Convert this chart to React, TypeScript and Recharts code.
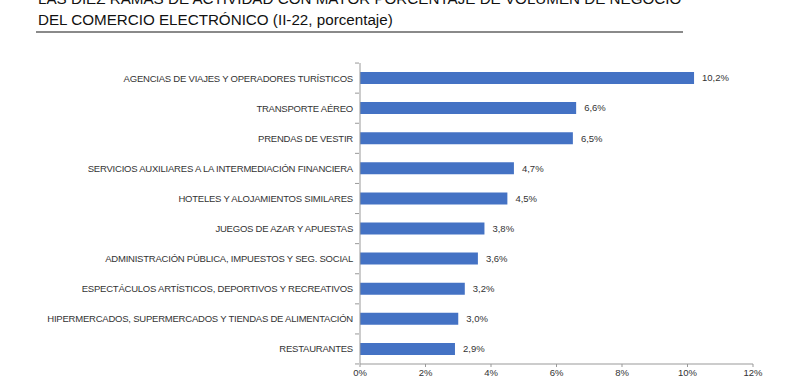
import React from "react";
import { BarChart, Bar, XAxis, YAxis, LabelList } from "recharts";

const categories = [
  "AGENCIAS DE VIAJES Y OPERADORES TURÍSTICOS",
  "TRANSPORTE AÉREO",
  "PRENDAS DE VESTIR",
  "SERVICIOS AUXILIARES A LA INTERMEDIACIÓN FINANCIERA",
  "HOTELES  Y ALOJAMIENTOS SIMILARES",
  "JUEGOS DE AZAR Y APUESTAS",
  "ADMINISTRACIÓN PÚBLICA, IMPUESTOS Y SEG. SOCIAL",
  "ESPECTÁCULOS ARTÍSTICOS, DEPORTIVOS Y RECREATIVOS",
  "HIPERMERCADOS, SUPERMERCADOS Y TIENDAS DE ALIMENTACIÓN",
  "RESTAURANTES",
];
const values = [10.2, 6.6, 6.5, 4.7, 4.5, 3.8, 3.6, 3.2, 3.0, 2.9];
const xTicks = [0, 2, 4, 6, 8, 10, 12];
const titleLines = [
  "LAS DIEZ RAMAS DE ACTIVIDAD CON MAYOR PORCENTAJE DE VOLUMEN DE NEGOCIO",
  "DEL COMERCIO ELECTRÓNICO (II-22, porcentaje)",
];

const data = categories.map((name, i) => ({ name, value: values[i] }));
const FONT = "'Liberation Sans', Arial, sans-serif";
const fmt = (v: number) => v.toFixed(1).replace(".", ",") + "%";

const CatTick = (props: any) => {
  const { x, y, payload, index } = props;
  const half = 15;
  const ax = x + 7;
  return (
    <g>
      <text x={x + 1} y={y} dy={3.5} textAnchor="end" fontSize={9.5} letterSpacing={-0.22} fill="#333" fontFamily={FONT}>
        {payload.value}
      </text>
      <line x1={ax - 4} x2={ax} y1={y - half} y2={y - half} stroke="#999" />
      {index === categories.length - 1 && (
        <line x1={ax - 4} x2={ax} y1={y + half} y2={y + half} stroke="#999" />
      )}
    </g>
  );
};

export default function App() {
  return (
    <div style={{ position: "absolute", left: 0, top: 0, width: 800, height: 380, background: "#fff", fontFamily: FONT }}>
      <div style={{ position: "absolute", left: 38, top: -12, fontSize: 15.2, lineHeight: "21px", color: "#111", whiteSpace: "nowrap" }}>
        <div>{titleLines[0]}</div>
        <div>{titleLines[1]}</div>
      </div>
      <div style={{ position: "absolute", left: 36, top: 31, width: 647, height: 2, background: "#8a8a8a" }} />
      <div style={{ position: "absolute", left: 0, top: 0 }}>
        <BarChart
          width={800}
          height={380}
          data={data}
          layout="vertical"
          margin={{ top: 63, right: 47, bottom: 0, left: 0 }}
          barCategoryGap={0}
        >
          <XAxis
            type="number"
            domain={[0, 12]}
            ticks={xTicks}
            tickFormatter={(v: number) => v + "%"}
            height={16}
            axisLine={{ stroke: "#999" }}
            tickLine={{ stroke: "#999" }}
            tickSize={3}
            tick={{ fontSize: 9.5, fill: "#333", fontFamily: FONT }}
            interval={0}
          />
          <YAxis
            type="category"
            dataKey="name"
            width={360}
            axisLine={{ stroke: "#999" }}
            tickLine={false}
            tick={<CatTick />}
            interval={0}
          />
          <Bar dataKey="value" fill="#4472C4" barSize={12} isAnimationActive={false}>
            <LabelList
              dataKey="value"
              position="right"
              offset={8}
              formatter={(v: any) => fmt(Number(v))}
              style={{ fontSize: 9.5, fill: "#333", fontFamily: FONT }}
            />
          </Bar>
        </BarChart>
      </div>
    </div>
  );
}
